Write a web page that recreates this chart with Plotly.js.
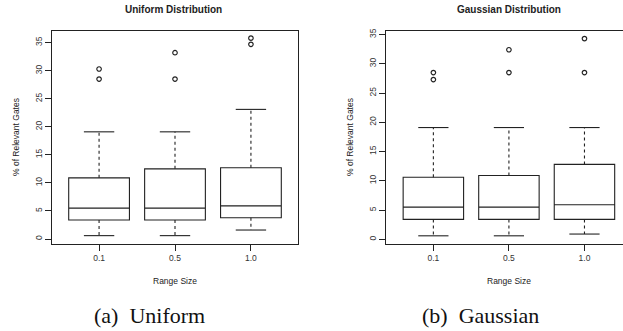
<!DOCTYPE html>
<html>
<head>
<meta charset="utf-8">
<script src="https://cdn.plot.ly/plotly-3.0.1.min.js"></script>
<style>html,body{margin:0;padding:0;background:#fff;}#chart{width:623px;height:331px;}</style>
</head>
<body>
<div id="chart"></div>
<script>
// ---- data ----
const categories = ['0.1', '0.5', '1.0'];
const yTicks = [0, 5, 10, 15, 20, 25, 30, 35];

const uniLow  = [0.6, 0.6, 1.6];
const uniQ1   = [3.4, 3.4, 3.8];
const uniMed  = [5.5, 5.5, 5.9];
const uniQ3   = [10.9, 12.5, 12.7];
const uniHigh = [19.1, 19.1, 23.1];
const uniOut  = [[28.5, 30.3], [28.5, 33.2], [34.7, 35.8]];

const gauLow  = [0.6, 0.6, 0.9];
const gauQ1   = [3.4, 3.4, 3.4];
const gauMed  = [5.5, 5.5, 5.9];
const gauQ3   = [10.6, 10.9, 12.8];
const gauHigh = [19.1, 19.1, 19.1];
const gauOut  = [[27.3, 28.5], [28.5, 32.4], [28.5, 34.3]];

// ---- styles ----
const INK = '#222';
const LINEW = 1.1;
const BOXW = 0.8;
const CAPHALF = 0.2;
const pos = categories.map((c, i) => i + 1);

function boxTraces(low, q1, med, q3, high, outs, xa, ya) {
  const tr = [];
  tr.push({
    type: 'box', x: pos, q1: q1, median: med, q3: q3,
    lowerfence: q1, upperfence: q3, width: BOXW, whiskerwidth: 0,
    boxpoints: false, fillcolor: '#fff',
    line: {color: INK, width: LINEW},
    xaxis: xa, yaxis: ya, showlegend: false, hoverinfo: 'skip'
  });
  // dashed whiskers
  const wx = [], wy = [];
  pos.forEach((p, i) => {
    wx.push(p, p, null, p, p, null);
    wy.push(q3[i], high[i], null, q1[i], low[i], null);
  });
  tr.push({type: 'scatter', mode: 'lines', x: wx, y: wy,
    line: {color: INK, width: LINEW, dash: '3px,3px'},
    xaxis: xa, yaxis: ya, showlegend: false, hoverinfo: 'skip'});
  // staples
  const cx = [], cy = [];
  pos.forEach((p, i) => {
    cx.push(p - CAPHALF, p + CAPHALF, null, p - CAPHALF, p + CAPHALF, null);
    cy.push(high[i], high[i], null, low[i], low[i], null);
  });
  tr.push({type: 'scatter', mode: 'lines', x: cx, y: cy,
    line: {color: INK, width: LINEW},
    xaxis: xa, yaxis: ya, showlegend: false, hoverinfo: 'skip'});
  // outliers
  const ox = [], oy = [];
  outs.forEach((arr, i) => arr.forEach(v => { ox.push(pos[i]); oy.push(v); }));
  tr.push({type: 'scatter', mode: 'markers', x: ox, y: oy,
    marker: {symbol: 'circle-open', size: 4.5, color: INK, line: {width: 1.2, color: INK}},
    xaxis: xa, yaxis: ya, showlegend: false, hoverinfo: 'skip'});
  return tr;
}

const data = [].concat(
  boxTraces(uniLow, uniQ1, uniMed, uniQ3, uniHigh, uniOut, 'x', 'y'),
  boxTraces(gauLow, gauQ1, gauMed, gauQ3, gauHigh, gauOut, 'x2', 'y2')
);

const tickFont = {family: 'Liberation Sans, Arial, sans-serif', size: 8.5, color: '#333'};
function xAxis(domain, range, anchor) {
  return {domain: domain, range: range, anchor: anchor,
    tickmode: 'array', tickvals: pos, ticktext: categories,
    ticks: 'outside', ticklen: 6, tickwidth: 1, tickcolor: INK,
    showline: true, mirror: true, linecolor: INK, linewidth: 1,
    showgrid: false, zeroline: false, tickfont: tickFont, fixedrange: true};
}
function yAxis(domain, range, anchor, mirror) {
  return {domain: domain, range: range, anchor: anchor,
    tickmode: 'array', tickvals: yTicks, ticktext: yTicks.map(String),
    tickangle: -90,
    ticks: 'outside', ticklen: 6, tickwidth: 1, tickcolor: INK,
    showline: true, mirror: mirror, linecolor: INK, linewidth: 1,
    showgrid: false, zeroline: false, tickfont: tickFont, fixedrange: true};
}

const yDom = [87 / 331, 300 / 331];
const sans = 'Liberation Sans, Arial, sans-serif';
function ann(text, x, y, size, extra) {
  return Object.assign({text: text, x: x, y: y, xref: 'paper', yref: 'paper',
    showarrow: false, xanchor: 'center', yanchor: 'middle',
    font: {family: sans, size: size, color: '#222'}}, extra || {});
}
const serif = {family: 'Liberation Serif, Times New Roman, serif', size: 22, color: '#111'};

const layout = {
  width: 623, height: 331,
  margin: {l: 0, r: 0, t: 0, b: 0},
  paper_bgcolor: '#fff', plot_bgcolor: '#fff',
  showlegend: false,
  xaxis: xAxis([52 / 623, 298 / 623], [0.38, 3.62], 'y'),
  yaxis: yAxis(yDom, [-0.89, 37.07], 'x', true),
  xaxis2: xAxis([386 / 623, 1], [0.373, 3.51], 'y2'),
  yaxis2: yAxis(yDom, [-0.8, 35.6], 'x2', false),
  annotations: [
    ann('<b>Uniform Distribution</b>', 174 / 623, (331 - 10) / 331, 10),
    ann('<b>Gaussian Distribution</b>', 509 / 623, (331 - 10) / 331, 10),
    ann('Range Size', 175 / 623, (331 - 281) / 331, 8.5),
    ann('Range Size', 509 / 623, (331 - 281) / 331, 8.5),
    ann('% of Relevant Gates', 16 / 623, (331 - 137) / 331, 8.5, {textangle: -90}),
    ann('% of Relevant Gates', 350 / 623, (331 - 137) / 331, 8.5, {textangle: -90}),
    ann('(a)\u00a0 Uniform', 149 / 623, (331 - 315) / 331, 22, {font: serif}),
    ann('(b)\u00a0 Gaussian', 480 / 623, (331 - 315) / 331, 22, {font: serif})
  ]
};

Plotly.newPlot('chart', data, layout, {staticPlot: true, displayModeBar: false});
</script>
</body>
</html>
